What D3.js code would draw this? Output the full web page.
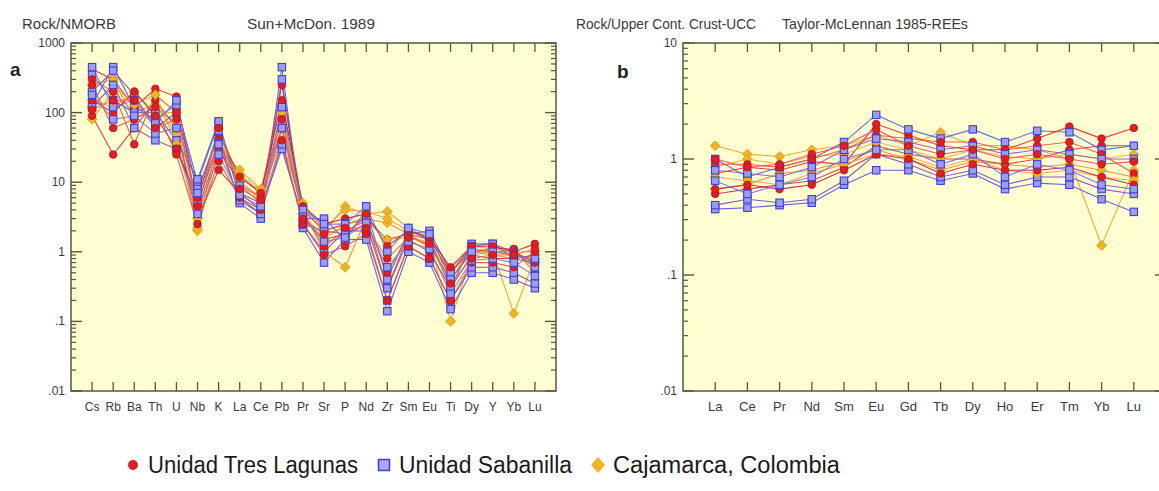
<!DOCTYPE html>
<html><head><meta charset="utf-8">
<script src="https://cdn.jsdelivr.net/npm/d3@7"></script>
<style>body{margin:0;background:#fff;} svg text{font-family:"Liberation Sans",Arial,sans-serif;}</style>
</head><body><svg id="c" width="1159" height="491"></svg>
<script>
// ---------- DATA ----------
const elementsA = ["Cs","Rb","Ba","Th","U","Nb","K","La","Ce","Pb","Pr","Sr","P","Nd","Zr","Sm","Eu","Ti","Dy","Y","Yb","Lu"];
const elementsB = ["La","Ce","Pr","Nd","Sm","Eu","Gd","Tb","Dy","Ho","Er","Tm","Yb","Lu"];

const yTicksA = [1000,100,10,1,0.1,0.01];
const yTickLabelsA = ["1000","100","10","1",".1",".01"];
const yTicksB = [10,1,0.1,0.01];
const yTickLabelsB = ["10","1",".1",".01"];

// Rock / NMORB (Sun & McDonough 1989)
const tresLagunasA = [
  [420,300,120,220,170,4,30,10,6,250,4,2,2.5,3,1.5,1.8,1.5,0.5,1.1,1.0,1.0,1.3],
  [90,25,60,150,60,3,15,7,5,100,3,1.5,1.8,2.5,0.3,1.5,1.0,0.3,0.9,0.8,0.8,0.9],
  [300,200,35,180,100,5,40,9,6,60,3.5,1.2,2,2.8,0.5,1.7,1.2,0.4,1.0,1.1,1.1,0.5],
  [150,100,200,90,30,6,50,12,7,150,4.5,2.5,3,3.5,1.2,2.0,1.6,0.6,1.2,1.2,1.0,0.7],
  [250,60,80,120,25,2.5,20,6,4,40,2.5,0.9,1.2,1.8,0.2,1.2,0.8,0.2,0.7,0.7,0.6,1.0],
  [110,150,150,60,80,4.5,60,8,5.5,80,3,1.8,2.2,2.2,0.8,1.6,1.3,0.35,0.8,0.9,0.9,1.1]
];
const sabanillaA = [
  [130,450,120,80,130,10,70,6,3.5,450,2.2,0.7,1.5,1.5,0.14,1.0,0.7,0.15,0.5,0.5,0.4,0.3],
  [200,400,180,60,100,8,45,5,3,300,2.5,1,2,2,0.2,1.2,0.8,0.2,0.6,0.6,0.5,0.35],
  [350,150,100,100,40,11,75,7,4,30,3,3,1.5,4,0.4,2,1.5,0.3,1.3,1.3,0.8,0.7],
  [120,250,60,40,30,5,35,5.5,3.5,35,2.5,2,1.8,3.2,0.3,1.8,2,0.5,1.2,1.3,1,0.6],
  [450,120,150,70,150,7,55,9,5,120,4,2.5,2.5,4.5,1.0,2.2,1.8,0.4,1.0,1.0,0.9,0.8],
  [180,80,90,50,60,3.5,25,6.5,4.5,60,3.2,1.4,1.6,2.6,0.6,1.4,1.1,0.25,0.75,0.8,0.7,0.45]
];
const cajamarcaA = [
  [80,200,100,130,50,2,30,15,8,60,5,2,4.5,3.5,3.8,2.2,1.5,0.1,0.9,1.0,0.13,0.8],
  [250,300,80,120,70,2.2,40,12,7,40,4,1.0,0.6,3,2.6,1.8,1.2,0.5,1.0,0.9,0.8,0.9],
  [150,120,200,100,100,4,60,10,6,100,3.5,1.5,2.5,2.8,1.5,1.6,1.4,0.4,1.1,1.0,0.9,0.7],
  [120,250,130,180,35,3,25,13,7.5,150,4.5,2.2,4,3.8,3.0,2,1.7,0.55,1.2,1.1,1.0,1.0]
];

// Rock / Upper Continental Crust (Taylor & McLennan 1985)
const tresLagunasB = [
  [0.75,0.85,0.8,0.95,0.9,2.0,1.6,1.3,1.2,1.2,1.5,1.9,1.5,1.85],
  [0.5,0.55,0.6,0.65,0.85,1.3,1.1,1.0,1.0,0.9,1.0,1.2,1.3,1.3],
  [0.9,0.9,0.85,1.0,1.2,1.6,1.5,1.4,1.4,1.2,1.3,1.4,1.1,0.75],
  [0.55,0.6,0.55,0.6,0.8,1.1,1.0,0.75,0.9,0.8,0.8,0.85,0.7,0.6],
  [1.0,0.85,0.9,1.1,1.3,1.8,1.3,1.1,1.2,1.0,1.1,1.0,0.9,0.95]
];
const sabanillaB = [
  [0.37,0.38,0.4,0.42,0.6,0.8,0.8,0.65,0.75,0.55,0.62,0.6,0.45,0.35],
  [0.4,0.45,0.42,0.45,0.65,1.1,0.9,0.7,0.8,0.6,0.7,0.7,0.55,0.5],
  [1.0,0.7,0.85,1.0,1.4,2.4,1.8,1.5,1.8,1.4,1.75,1.7,1.2,1.3],
  [0.8,0.75,0.7,0.85,1.2,1.5,1.4,1.2,1.3,1.1,1.2,1.1,1.0,1.0],
  [0.65,0.5,0.6,0.7,1.0,1.2,1.2,0.9,1.1,0.7,0.9,0.8,0.6,0.55]
];
const cajamarcaB = [
  [1.3,1.1,1.05,1.2,1.3,1.6,1.3,1.7,1.3,1.3,1.2,1.0,0.18,0.8],
  [0.55,0.6,0.75,0.8,0.95,1.2,1.0,0.8,0.95,0.9,0.85,0.9,0.8,0.7],
  [0.85,1.0,0.9,1.05,1.1,1.4,1.2,1.0,1.2,1.05,1.0,1.1,1.0,1.1],
  [0.7,0.65,0.6,0.75,0.9,1.1,1.05,0.85,1.0,0.8,0.75,0.8,0.7,0.65]
];

const legendLabels = ["Unidad Tres Lagunas","Unidad Sabanilla","Cajamarca, Colombia"];

// ---------- STYLE ----------
const lineColorsTL = ["#e3261f","#d2303f","#f0502a","#c8183a","#e5485a","#f26a3a"];
const lineColorsSB = ["#5a4fe0","#7a45c0","#4664d6","#8a55b8","#6a6af0","#9070d0"];
const lineColorsCJ = ["#f0a020","#ef8a22","#e2b236","#f29a48"];
const axisColor = "#55573f";
const plotBg = "#ffffd2";

const svg = d3.select("#c");

function drawPanel(o) {
  const g = svg.append("g");
  const x = d3.scaleLinear().domain([-1, o.elements.length]).range([o.left, o.right]);
  const y = d3.scaleLog().domain([o.ymin, o.ymax]).range([o.bottom, o.top]);

  g.append("rect").attr("x", o.left).attr("y", o.top)
    .attr("width", o.right - o.left).attr("height", o.bottom - o.top)
    .attr("fill", plotBg).attr("stroke", axisColor).attr("stroke-width", 1.5);

  // category ticks top & bottom
  const idx = d3.range(o.elements.length);
  g.append("g").selectAll("line").data(idx).join("line")
    .attr("x1", i => x(i)).attr("x2", i => x(i))
    .attr("y1", o.bottom).attr("y2", o.bottom - 9)
    .attr("stroke", axisColor).attr("stroke-width", 1.3);
  g.append("g").selectAll("line").data(idx).join("line")
    .attr("x1", i => x(i)).attr("x2", i => x(i))
    .attr("y1", o.top).attr("y2", o.top + 9)
    .attr("stroke", axisColor).attr("stroke-width", 1.3);

  // log ticks left and right
  const minor = [];
  for (let d = o.ymin; d < o.ymax * 0.99; d *= 10) {
    for (let k = 2; k <= 9; k++) minor.push(k * d);
  }
  [[o.left, 1], [o.right, -1]].forEach(([ax, dir]) => {
    g.append("g").selectAll("line").data(minor).join("line")
      .attr("x1", ax).attr("x2", ax + dir * 5)
      .attr("y1", v => y(v)).attr("y2", v => y(v))
      .attr("stroke", axisColor).attr("stroke-width", 1.2);
    g.append("g").selectAll("line").data(o.yTicks).join("line")
      .attr("x1", ax).attr("x2", ax + dir * 11)
      .attr("y1", v => y(v)).attr("y2", v => y(v))
      .attr("stroke", axisColor).attr("stroke-width", 1.4);
  });

  // y tick labels
  g.append("g").selectAll("text").data(o.yTicks).join("text")
    .attr("x", o.left - 6).attr("y", v => y(v) + 4)
    .attr("text-anchor", "end").attr("font-size", 12).attr("fill", "#3a3a3a")
    .text((v, i) => o.yTickLabels[i]);

  // x labels
  g.append("g").selectAll("text").data(o.elements).join("text")
    .attr("x", (d, i) => x(i)).attr("y", o.bottom + 20)
    .attr("text-anchor", "middle").attr("font-size", o.xFont).attr("fill", "#3a3a3a")
    .text(d => d);

  // series (interleaved draw order across groups)
  const line = d3.line().x((d, i) => x(i)).y(d => y(d));
  const order = [];
  const maxLen = d3.max(o.groups, gr => gr.data.length);
  for (let k = 0; k < maxLen; k++) {
    o.groups.forEach(gr => { if (k < gr.data.length) order.push({vals: gr.data[k], color: gr.colors[k % gr.colors.length], shape: gr.shape}); });
  }
  const clip = "clip" + o.id;
  svg.append("clipPath").attr("id", clip).append("rect")
    .attr("x", o.left).attr("y", o.top).attr("width", o.right - o.left).attr("height", o.bottom - o.top);
  const sg = g.append("g").attr("clip-path", `url(#${clip})`);
  order.forEach(s => {
    sg.append("path").attr("d", line(s.vals)).attr("fill", "none")
      .attr("stroke", s.color).attr("stroke-width", 1.1).attr("opacity", 0.9);
  });
  order.forEach(s => {
    const mg = sg.append("g");
    s.vals.forEach((v, i) => drawMarker(mg, s.shape, x(i), y(v)));
  });
}

function drawMarker(g, shape, cx, cy) {
  if (shape === "circle") {
    g.append("circle").attr("cx", cx).attr("cy", cy).attr("r", 3.8)
      .attr("fill", "#e51c23").attr("stroke", "#b5141a").attr("stroke-width", 0.8);
  } else if (shape === "square") {
    g.append("rect").attr("x", cx - 3.7).attr("y", cy - 3.7).attr("width", 7.4).attr("height", 7.4)
      .attr("fill", "#9c9cf2").attr("stroke", "#3f3fd0").attr("stroke-width", 1.1);
  } else {
    const s = 4.9;
    g.append("path").attr("d", `M${cx},${cy - s}L${cx + s},${cy}L${cx},${cy + s}L${cx - s},${cy}Z`)
      .attr("fill", "#f2b320").attr("stroke", "#dc9a10").attr("stroke-width", 0.8);
  }
}

drawPanel({id: "a", left: 71, right: 556, top: 43, bottom: 391, elements: elementsA,
  ymin: 0.01, ymax: 1000, yTicks: yTicksA, yTickLabels: yTickLabelsA, xFont: 12,
  groups: [
    {data: cajamarcaA, colors: lineColorsCJ, shape: "diamond"},
    {data: sabanillaA, colors: lineColorsSB, shape: "square"},
    {data: tresLagunasA, colors: lineColorsTL, shape: "circle"}
  ]});
drawPanel({id: "b", left: 683, right: 1166, top: 43, bottom: 391, elements: elementsB,
  ymin: 0.01, ymax: 10, yTicks: yTicksB, yTickLabels: yTickLabelsB, xFont: 13,
  groups: [
    {data: cajamarcaB, colors: lineColorsCJ, shape: "diamond"},
    {data: sabanillaB, colors: lineColorsSB, shape: "square"},
    {data: tresLagunasB, colors: lineColorsTL, shape: "circle"}
  ]});

// titles
const titles = [
  {t: "Rock/NMORB", x: 22, y: 29, w: 94},
  {t: "Sun+McDon. 1989", x: 247, y: 29, w: 128},
  {t: "Rock/Upper Cont. Crust-UCC", x: 576, y: 29, w: 180},
  {t: "Taylor-McLennan 1985-REEs", x: 782, y: 29, w: 186}
];
svg.append("g").selectAll("text").data(titles).join("text")
  .attr("x", d => d.x).attr("y", d => d.y).attr("font-size", 14).attr("fill", "#3a3a3a")
  .attr("textLength", d => d.w).attr("lengthAdjust", "spacingAndGlyphs")
  .text(d => d.t);
svg.append("text").attr("x", 10).attr("y", 76).attr("font-size", 19).attr("font-weight", "bold").attr("fill", "#222").text("a");
svg.append("text").attr("x", 617).attr("y", 78).attr("font-size", 19).attr("font-weight", "bold").attr("fill", "#222").text("b");

// legend
const lg = svg.append("g");
const legendX = [133, 384, 598];
const legendW = [210, 173, 227];
legendLabels.forEach((lab, i) => {
  const cx = legendX[i], cy = 465;
  if (i === 0) lg.append("circle").attr("cx", cx).attr("cy", cy).attr("r", 5).attr("fill", "#e51c23");
  if (i === 1) lg.append("rect").attr("x", cx - 5.5).attr("y", cy - 5.5).attr("width", 11).attr("height", 11)
    .attr("fill", "#a8a8f4").attr("stroke", "#3f3fd0").attr("stroke-width", 1.5);
  if (i === 2) lg.append("path").attr("d", `M${cx},${cy-8}L${cx+7},${cy}L${cx},${cy+8}L${cx-7},${cy}Z`).attr("fill", "#f2b320");
  lg.append("text").attr("x", cx + 15).attr("y", cy + 8).attr("font-size", 23).attr("fill", "#1a1a1a")
    .attr("textLength", legendW[i]).attr("lengthAdjust", "spacingAndGlyphs").text(lab);
});
</script></body></html>
